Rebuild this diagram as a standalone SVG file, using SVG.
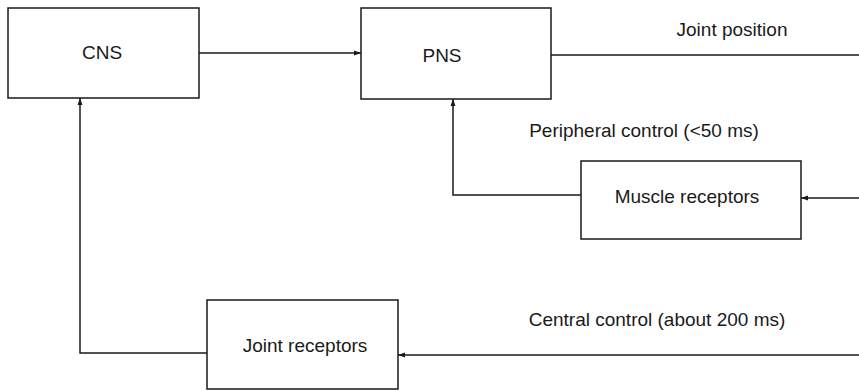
<svg xmlns="http://www.w3.org/2000/svg" width="859" height="391" viewBox="0 0 859 391">
<style>
.box{fill:#fff;stroke:#1a1a1a;stroke-width:1.5}
.ln{fill:none;stroke:#1a1a1a;stroke-width:1.5}
text{font-family:"Liberation Sans",Arial,sans-serif;font-size:19px;fill:#1a1a1a}
.c{text-anchor:middle}
</style>
<defs>
<marker id="ah" markerWidth="8" markerHeight="6" refX="7" refY="3" orient="auto" markerUnits="userSpaceOnUse">
<path d="M0,0.5 L7,3 L0,5.5 Z" fill="#1a1a1a"/>
</marker>
</defs>
<rect width="859" height="391" fill="#fff"/>
<g id="connectors">
<line class="ln" x1="199" y1="53" x2="361" y2="53" marker-end="url(#ah)"/>
<line class="ln" x1="551" y1="55" x2="859" y2="55"/>
<line class="ln" x1="859" y1="198" x2="801" y2="198" marker-end="url(#ah)"/>
<polyline class="ln" points="581,195 453,195 453,99" marker-end="url(#ah)"/>
<line class="ln" x1="859" y1="355" x2="398" y2="355" marker-end="url(#ah)"/>
<polyline class="ln" points="207,353 80,353 80,98" marker-end="url(#ah)"/>
<text class="c" x="732" y="36">Joint position</text>
<text class="c" x="644" y="137">Peripheral control (&lt;50 ms)</text>
<text class="c" x="657" y="326">Central control (about 200 ms)</text>
</g>
<g id="cns">
<rect class="box" x="8" y="8" width="191" height="90"/>
<text class="c" x="102" y="59">CNS</text>
</g>
<g id="pns">
<rect class="box" x="361" y="8" width="190" height="91"/>
<text class="c" x="442" y="62">PNS</text>
</g>
<g id="muscle">
<rect class="box" x="581" y="161" width="220" height="78"/>
<text class="c" x="687" y="203">Muscle receptors</text>
</g>
<g id="joint">
<rect class="box" x="207" y="300" width="191" height="89"/>
<text class="c" x="305" y="352">Joint receptors</text>
</g>
</svg>
